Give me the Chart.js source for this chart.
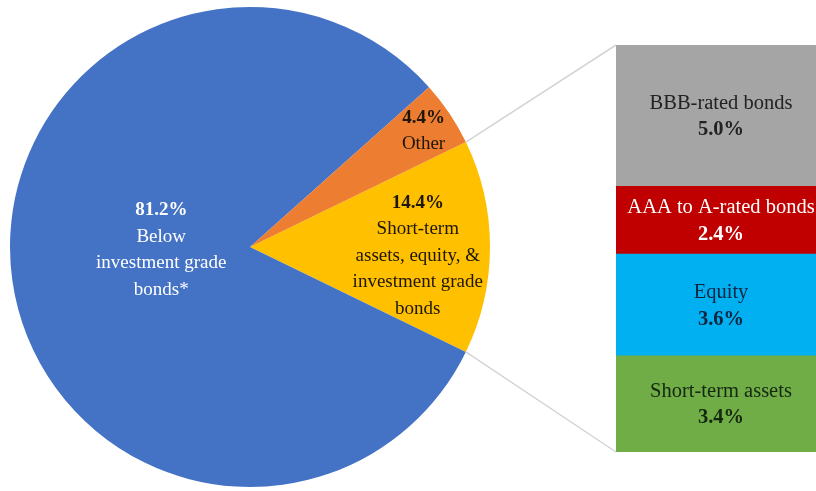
<!DOCTYPE html>
<html lang="en">
<head>
  <meta charset="utf-8">
  <title>Portfolio composition</title>
  <style type="text/css">
    body {
      margin: 0;
      background-color: #ffffff;
    }
    #wrap {
      position: relative;
      width: 816px;
      height: 491px;
      overflow: hidden;
    }
    #pie { position: absolute; left: 0; top: 0; width: 816px; height: 491px; }
    #bar { position: absolute; left: 586px; top: 45px; width: 240px; height: 407px; }
  </style>
  <script src="https://cdn.jsdelivr.net/npm/chart.js@4/dist/chart.umd.min.js"></script>
</head>
<body>
  <div id="wrap">
    <canvas id="pie" width="816" height="491"></canvas>
    <canvas id="bar" width="240" height="407"></canvas>
  </div>
  <script>
    // pie: yellow slice first so it can sit at 3 o'clock
    const pieNames = ['Short-term assets, equity, & investment grade bonds', 'Below investment grade bonds*', 'Other'];
    const pieValues = [14.4, 81.2, 4.4];
    const pieLines = [
      ['Short-term', 'assets, equity, &', 'investment grade', 'bonds'],
      ['Below', 'investment grade', 'bonds*'],
      ['Other']
    ];
    const pieColors = ['#FFC000', '#4472C4', '#ED7D31'];
    const pieTextColors = ['#1e1608', '#ffffff', '#1e1608'];

    // bar: bottom to top
    const barNames = ['Short-term assets', 'Equity', 'AAA to A-rated bonds', 'BBB-rated bonds'];
    const barValues = [3.4, 3.6, 2.4, 5.0];
    const barColors = ['#70AD47', '#00B0F0', '#C00000', '#A5A5A5'];
    const barTextColors = ['#142810', '#0f2540', '#ffffff', '#222222'];

    const FONT = '"Liberation Serif", "DejaVu Serif", serif';
    const LINE = 26.5;

    // lines: array of [text, bold]
    function drawLines(ctx, x, y, lines, size, color) {
      var top = y - (lines.length - 1) * LINE / 2;
      ctx.fillStyle = color;
      ctx.textAlign = 'center';
      ctx.textBaseline = 'middle';
      for (var i = 0; i < lines.length; i++) {
        ctx.font = (lines[i][1] ? 'bold ' : '') + size + 'px ' + FONT;
        ctx.fillText(lines[i][0], x, top + i * LINE);
      }
    }

    const barLabelPlugin = {
      id: 'barLabels',
      afterDatasetsDraw(chart) {
        const ctx = chart.ctx;
        ctx.save();
        chart.data.datasets.forEach(function (ds, i) {
          const el = chart.getDatasetMeta(i).data[0];
          const cy = (el.y + el.base) / 2 + 1;
          drawLines(ctx, el.x, cy, [[barNames[i], false], [ds.data[0].toFixed(1) + '%', true]], 20.5, barTextColors[i]);
        });
        ctx.restore();
      }
    };

    const barChart = new Chart(document.getElementById('bar').getContext('2d'), {
      type: 'bar',
      data: {
        labels: ['Investment grade'],
        datasets: barValues.map(function (v, i) {
          return {
            label: barNames[i],
            data: [v],
            backgroundColor: barColors[i],
            borderWidth: 0,
            barPercentage: 1,
            categoryPercentage: 1
          };
        })
      },
      options: {
        responsive: false,
        animation: false,
        layout: { padding: { left: 30, right: 0, top: 0, bottom: 0 } },
        scales: {
          x: { stacked: true, display: false },
          y: { stacked: true, display: false, min: 0, max: 14.4 }
        },
        plugins: {
          legend: { display: false },
          tooltip: { enabled: false }
        }
      },
      plugins: [barLabelPlugin]
    });

    // label spots: [angle in degrees, fraction of radius]
    const labelPolar = [[3, 0.70], [178, 0.37], [-33.8, 0.87]];

    const pieExtras = {
      id: 'pieExtras',
      afterDatasetsDraw(chart) {
        const ctx = chart.ctx;
        const arcs = chart.getDatasetMeta(0).data;
        ctx.save();
        // connector lines from the yellow slice to the bar
        const a = arcs[0];
        const barCanvas = document.getElementById('bar');
        const ox = barCanvas.offsetLeft, oy = barCanvas.offsetTop;
        const topEl = barChart.getDatasetMeta(barValues.length - 1).data[0];
        const botEl = barChart.getDatasetMeta(0).data[0];
        const leftX = ox + topEl.x - topEl.width / 2;
        ctx.strokeStyle = '#d4d4d4';
        ctx.lineWidth = 1.5;
        ctx.beginPath();
        ctx.moveTo(a.x + Math.cos(a.startAngle) * a.outerRadius, a.y + Math.sin(a.startAngle) * a.outerRadius);
        ctx.lineTo(leftX, oy + topEl.y);
        ctx.moveTo(a.x + Math.cos(a.endAngle) * a.outerRadius, a.y + Math.sin(a.endAngle) * a.outerRadius);
        ctx.lineTo(leftX, oy + botEl.base);
        ctx.stroke();
        // slice labels
        arcs.forEach(function (arc, i) {
          const ang = labelPolar[i][0] * Math.PI / 180;
          const r = arc.outerRadius * labelPolar[i][1];
          const lines = [[pieValues[i].toFixed(1) + '%', true]].concat(pieLines[i].map(function (t) { return [t, false]; }));
          drawLines(ctx, arc.x + Math.cos(ang) * r, arc.y + Math.sin(ang) * r, lines, 19, pieTextColors[i]);
        });
        ctx.restore();
      }
    };

    const total = pieValues.reduce(function (s, v) { return s + v; }, 0);
    new Chart(document.getElementById('pie').getContext('2d'), {
      type: 'pie',
      data: {
        labels: pieNames,
        datasets: [{
          data: pieValues,
          backgroundColor: pieColors,
          borderWidth: 0,
          hoverOffset: 0
        }]
      },
      options: {
        responsive: false,
        animation: false,
        rotation: 90 - pieValues[0] / total * 180,
        layout: { padding: { left: 10, right: 326, top: 7, bottom: 4 } },
        plugins: {
          legend: { display: false },
          tooltip: { enabled: false }
        }
      },
      plugins: [pieExtras]
    });
  </script>
</body>
</html>
